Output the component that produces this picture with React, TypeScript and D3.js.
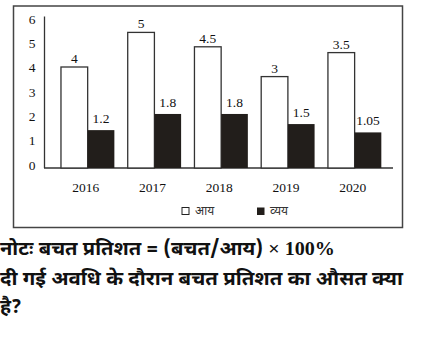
import React from "react";
import * as d3 from "d3";

const years = ["2016", "2017", "2018", "2019", "2020"];
const incomeLabels = ["4", "5", "4.5", "3", "3.5"];
const expenseLabels = ["1.2", "1.8", "1.8", "1.5", "1.05"];
// bar heights as drawn in the picture
const incomeHeights = [4.0, 5.37, 4.8, 3.62, 4.57];
const expenseHeights = [1.5, 2.14, 2.14, 1.74, 1.41];
const yTicks = [0, 1, 2, 3, 4, 5, 6];
const legendLabels = ["आय", "व्यय"];
const noteLine1 = "नोटः बचत प्रतिशत = (बचत/आय)";
const noteLine1Tail = " × 100%";
const noteLine2 = "दी गई अवधि के दौरान बचत प्रतिशत का औसत क्या";
const noteLine3 = "है?";

export default function App() {
  const W = 423, H = 361;
  const y = d3.scaleLinear().domain([0, 6]).range([168, 16.5]);
  const yLab = d3.scaleLinear().domain([0, 6]).range([165, 19]);
  const x = d3.scaleBand().domain(years).range([54.3, 388]).paddingInner(0.2).paddingOuter(0.1);
  const sub = d3.scaleBand().domain(["i", "e"]).range([0, x.bandwidth()]);
  const serif = "'Liberation Serif', 'Times New Roman', serif";
  const dark = "#221e1b";
  const deva = "'Noto Sans Devanagari', 'Noto Sans', 'Lohit Devanagari', sans-serif";

  return (
    <svg width={W} height={H} style={{ position: "absolute", left: 0, top: 0, background: "#fff" }}>
      <rect x={13.5} y={6} width={389} height={221.5} fill="none" stroke="#444" strokeWidth={1.5} />
      {/* axes */}
      <line x1={44.5} x2={44.5} y1={y(6)} y2={y(0)} stroke="#333" strokeWidth={1.3} />
      <line x1={44} x2={393} y1={y(0)} y2={y(0)} stroke="#333" strokeWidth={1.3} />
      {yTicks.map((t) => (
        <text key={t} x={32} y={yLab(t)} dy="0.35em" textAnchor="middle" fontFamily={serif} fontSize={13.5} fill="#111">
          {t}
        </text>
      ))}
      {years.map((yr, i) => {
        const gx = x(yr)!;
        const ix = gx + sub("i")!;
        const ex = gx + sub("e")!;
        const bw = sub.bandwidth();
        return (
          <g key={yr}>
            <rect x={ix} y={y(incomeHeights[i])} width={bw} height={y(0) - y(incomeHeights[i])} fill="#fff" stroke="#333" strokeWidth={1.3} />
            <rect x={ex} y={y(expenseHeights[i])} width={bw} height={y(0) - y(expenseHeights[i])} fill={dark} />
            <text x={ix + bw / 2} y={y(incomeHeights[i]) - 4} textAnchor="middle" fontFamily={serif} fontSize={13.5} fill="#111">
              {incomeLabels[i]}
            </text>
            <text x={ex + bw / 2} y={y(expenseHeights[i]) - 7} textAnchor="middle" fontFamily={serif} fontSize={13.5} fill="#111">
              {expenseLabels[i]}
            </text>
            <text x={gx + x.bandwidth() / 2 - 2} y={192} textAnchor="middle" fontFamily={serif} fontSize={13.5} fill="#111">
              {yr}
            </text>
          </g>
        );
      })}
      {/* legend */}
      <rect x={182} y={207.5} width={7} height={7} fill="#fff" stroke="#222" strokeWidth={1} />
      <text x={195} y={215} fontFamily={deva} fontSize={12} fill="#333">{legendLabels[0]}</text>
      <rect x={257} y={207.5} width={7.5} height={7.5} fill={dark} />
      <text x={270} y={215} fontFamily={deva} fontSize={12} fill="#333">{legendLabels[1]}</text>
      {/* note text */}
      <text x={0} y={255} fontFamily={deva} fontWeight="bold" fontSize={19.5} fill="#111" textLength={335} lengthAdjust="spacingAndGlyphs">
        {noteLine1}
        <tspan fontFamily={serif}>{noteLine1Tail}</tspan>
      </text>
      <text x={0} y={285} fontFamily={deva} fontWeight="bold" fontSize={19.5} fill="#111" textLength={403} lengthAdjust="spacingAndGlyphs">{noteLine2}</text>
      <text x={0} y={313} fontFamily={deva} fontWeight="bold" fontSize={19.5} fill="#111">{noteLine3}</text>
    </svg>
  );
}
